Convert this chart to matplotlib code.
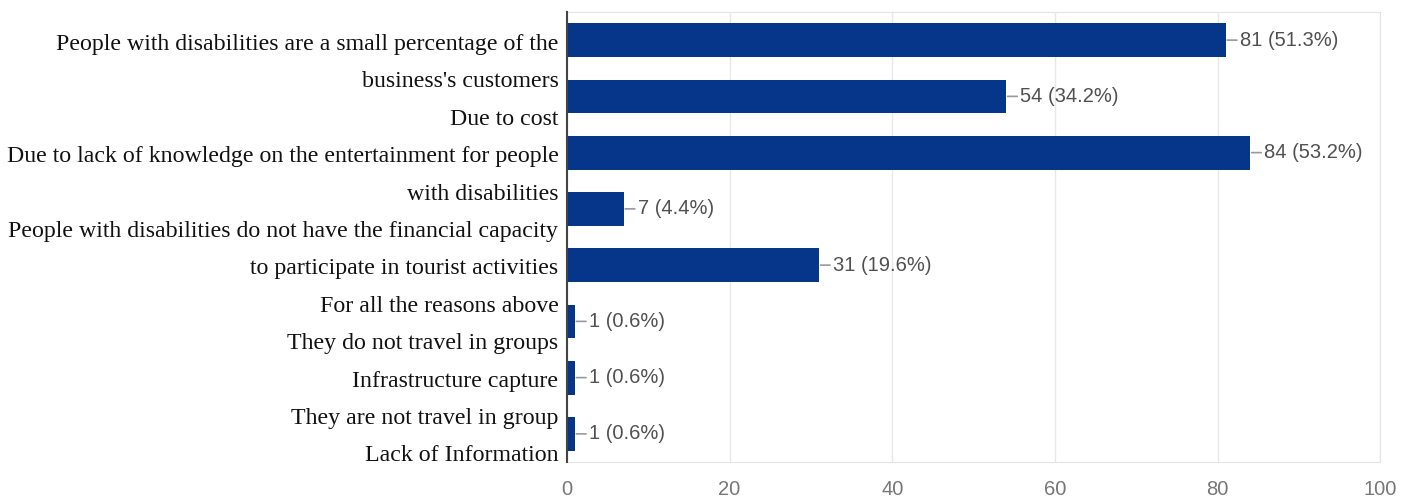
import matplotlib
matplotlib.use("Agg")
import matplotlib.pyplot as plt
import numpy as np

# Chart data
COUNTS = [81, 54, 84, 7, 31, 1, 1, 1]
PERCENTS = [51.3, 34.2, 53.2, 4.4, 19.6, 0.6, 0.6, 0.6]
LABEL_LINES = [
    "People with disabilities are a small percentage of the",
    "business's customers",
    "Due to cost",
    "Due to lack of knowledge on the entertainment for people",
    "with disabilities",
    "People with disabilities do not have the financial capacity",
    "to participate in tourist activities",
    "For all the reasons above",
    "They do not travel in groups",
    "Infrastructure capture",
    "They are not travel in group",
    "Lack of Information",
]
X_TICKS = [0, 20, 40, 60, 80, 100]

BAR_COLOR = "#06368a"
SANS = ["Liberation Sans", "DejaVu Sans"]
SERIF = ["Liberation Serif", "DejaVu Serif"]


def main() -> None:
    fig = plt.figure(figsize=(14.1, 5), dpi=100)
    ax = fig.add_axes([0.402, 0.076, 0.577, 0.9])

    y_pos = np.arange(len(COUNTS))
    ax.barh(y_pos, COUNTS, height=0.6, color=BAR_COLOR, zorder=3)
    ax.set_ylim(len(COUNTS) - 0.5, -0.5)
    ax.set_xlim(0, 100)

    # value labels with short leader lines
    for i, (c, p) in enumerate(zip(COUNTS, PERCENTS)):
        ax.annotate(
            f"{c} ({p}%)",
            xy=(c, i),
            xytext=(10, 0),
            textcoords="offset points",
            va="center",
            ha="left",
            fontsize=14.5,
            family=SANS,
            color="#505050",
            arrowprops=dict(arrowstyle="-", color="#999999", lw=1.2,
                            shrinkA=0, shrinkB=1),
            zorder=4,
        )

    ax.set_xticks(X_TICKS)
    ax.set_xticklabels([str(t) for t in X_TICKS], family=SANS,
                       fontsize=14.5, color="#777777")
    ax.tick_params(axis="x", length=0, pad=13)
    ax.set_yticks([])
    ax.grid(axis="x", color="#e8e8e8", lw=1, zorder=0)

    for side in ["top", "right", "bottom"]:
        ax.spines[side].set_color("#e4e4e4")
    ax.spines["left"].set_color("#444444")
    ax.spines["left"].set_linewidth(1.5)
    ax.spines["left"].set_zorder(5)

    # category text lines sit on their own evenly spaced scale
    ax2 = ax.twinx()
    ax2.set_ylim(11.23, -0.8)
    ax2.set_yticks(np.arange(len(LABEL_LINES)))
    ax2.set_yticklabels(LABEL_LINES, family=SERIF, fontsize=17.2,
                        color="#111111")
    ax2.yaxis.tick_left()
    ax2.tick_params(axis="y", length=0, pad=6)
    for spine in ax2.spines.values():
        spine.set_visible(False)

    fig.savefig("out.png", dpi=100)


if __name__ == "__main__":
    main()
